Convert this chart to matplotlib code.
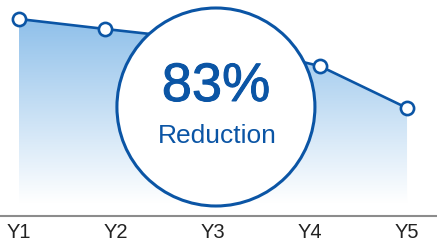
#!/usr/bin/env python3
"""
Reduction callout chart: area line over five years with a big
circular "83% Reduction" badge in the middle.
"""

import numpy as np
import matplotlib
matplotlib.use("Agg")
import matplotlib.pyplot as plt
import matplotlib.patheffects as pe
from matplotlib.patches import Ellipse
from matplotlib.colors import LinearSegmentedColormap

# ── data ──
years = ["Y1", "Y2", "Y3", "Y4", "Y5"]
year_pos = [0.0, 0.89, 2.0, 3.1, 4.0]
values = [197, 187, 175, 150, 108]
headline = "83%"
subline = "Reduction"

BLUE = "#0b55a5"
FILL_TOP = "#8fc0ea"
FILL_BOTTOM = "#ffffff"


def main():
    plt.rcParams["font.family"] = ["Liberation Sans", "DejaVu Sans"]

    fig = plt.figure(figsize=(4.37, 2.42), dpi=100)
    ax = fig.add_axes([0, 0, 1, 1])
    ax.set_xlim(-0.196, 4.309)
    ax.set_ylim(-26, 216)
    ax.axis("off")

    # ── gradient area under the line ──
    floor = 13
    poly = ax.fill_between(year_pos, values, floor, color="none", lw=0)
    cmap = LinearSegmentedColormap.from_list("fade", [FILL_BOTTOM, FILL_TOP])
    grad = np.linspace(0, 1, 256).reshape(-1, 1)
    img = ax.imshow(grad, cmap=cmap, origin="lower", aspect="auto",
                    extent=[year_pos[0], year_pos[-1], floor, max(values)],
                    zorder=1)
    path = poly.get_paths()[0]
    img.set_clip_path(path, transform=ax.transData)

    # ── line + markers ──
    ax.plot(year_pos, values, color=BLUE, lw=1.9, zorder=3,
            marker="o", ms=9.5, mfc="white", mec=BLUE, mew=1.9)

    # ── baseline axis + labels ──
    ax.axhline(0, color="#8c8c8c", lw=1.5, zorder=2)
    for i, lab in enumerate(years):
        ax.text(i, -22, lab, ha="center", va="baseline",
                fontsize=14.5, color="#222222")

    # ── badge ──
    badge = Ellipse((2.03, 109), width=2 * 99 / 97, height=198,
                    facecolor="white", edgecolor=BLUE, lw=2.2, zorder=5)
    ax.add_patch(badge)
    ax.text(2.03, 115, headline, ha="center", va="baseline",
            fontsize=39, color=BLUE, zorder=6,
            path_effects=[pe.withStroke(linewidth=0.7, foreground=BLUE)])
    ax.text(2.04, 73, subline, ha="center", va="baseline",
            fontsize=19, color=BLUE, zorder=6)

    fig.savefig("out.png", dpi=100, facecolor="white")
    plt.close(fig)


if __name__ == "__main__":
    main()
